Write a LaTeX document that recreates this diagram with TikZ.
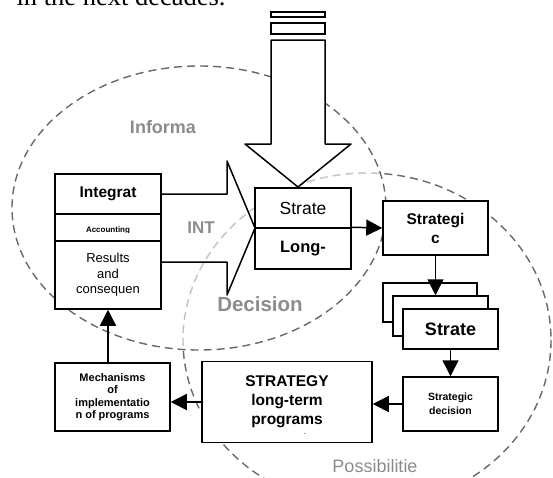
\documentclass[tikz,border=0pt]{standalone}
\usepackage{fontspec}
\setmainfont{Liberation Sans}
\newfontfamily\bodyserif{Liberation Serif}
\usepackage{tkz-euclide}
\usetikzlibrary{arrows.meta}
\definecolor{ringgray}{RGB}{105,105,105}
\definecolor{labelgray}{RGB}{140,140,140}
\newcommand{\fs}[2]{\fontsize{#1}{#2}\selectfont}
\tikzset{
  box/.style={draw, line width=1.5pt, fill=white, inner sep=0pt, align=center},
  link/.style={line width=1.5pt, -{Triangle[length=16pt,width=16pt]}},
  ring/.style={draw=ringgray, line width=1.4pt, dash pattern=on 8pt off 5pt},
  tag/.style={text=labelgray, font=\bfseries\fs{18}{20}}
}

\begin{document}
\begin{tikzpicture}[x=1pt,y=-1pt]
    \useasboundingbox (0,0) rectangle (553,477);
    \node[anchor=base west, font=\bodyserif\fs{26.5}{30}] (head) at (13,5) {in the next decades.};
    % the two dashed rings
    \draw[ring] (367,340) ellipse (184 and 167);
    \draw[ring, fill=white, fill opacity=0.6] (199,208) ellipse (187 and 142);
    % big arrow from the top
    \tkzDefPoints{271/40/A, 325/40/B, 325/144/C, 351/144/D, 298/187/E, 245/144/F, 271/144/G}
    \tkzDefPoints{271/12/H, 325/17/K, 271/23/L, 325/34/M}
    \tkzDrawPolygon[line width=1.5pt, fill=white](A,B,C,D,E,F,G)
    \draw[line width=1.2pt, fill=white] (H) rectangle (K);
    \draw[line width=1.2pt, fill=white] (L) rectangle (M);
    % big arrow INT
    \tkzDefPoints{161/194/P, 227/194/Q, 227/161/R, 255/228/S, 227/295/T, 227/262/U, 161/262/V}
    \tkzDrawPolygon[line width=1.5pt](P,Q,R,S,T,U,V)
    \node[tag] (info) at (163,127) {Informa};
    \node[tag, font=\bfseries\fs{17}{20}] (int) at (201,228) {INT};
    \node[tag, font=\bfseries\fs{20.5}{24}] (decn) at (260,304) {Decision};
    \node[tag, font=\fs{18}{20}] (poss) at (375,466) {Possibilitie};
    % left column
    \node[box, minimum width=106pt, minimum height=40pt, font=\bfseries\fs{15.5}{18}] (integ) at (108,194) {Integrat};
    \node[box, minimum width=106pt, minimum height=27pt] (acc) at (108,227.5) {};
    \begin{scope}
        \clip (55,214) rectangle (161,232.6);
        \node[anchor=base, font=\bfseries\fs{8}{9}] (acctxt) at (108,232.4) {Accounting};
    \end{scope}
    \node[box, minimum width=106pt, minimum height=68pt, font=\fs{13}{15.5}] (res) at (108,275) {Results\\and\\consequen};
    \node[box, minimum width=115pt, minimum height=68pt, font=\bfseries\fs{11}{12.5}] (mech) at (112.5,397) {Mechanisms\\of\\implementatio\\n of programs};
    % middle and right
    \node[box, minimum width=96pt, minimum height=40pt, font=\fs{17.5}{20}] (strt) at (303,208) {Strate};
    \node[box, minimum width=96pt, minimum height=41pt, font=\bfseries\fs{16.5}{20}] (lng) at (303,248.5) {Long-};
    \node[box, minimum width=105pt, minimum height=54pt, font=\bfseries\fs{15.5}{19}] (strat) at (435.5,228) {Strategi\\c};
    \node[box, minimum width=94pt, minimum height=39pt] (back) at (430,302.5) {};
    \node[box, minimum width=95pt, minimum height=40pt] (mid) at (440.5,316) {};
    \node[box, minimum width=95pt, minimum height=40pt, font=\bfseries\fs{18}{20}] (front) at (450.5,329) {Strate};
    \node[box, minimum width=95pt, minimum height=54pt, font=\bfseries\fs{10.5}{14}] (dec) at (450.5,404) {Strategic\\decision};
    \node[box, minimum width=170pt, minimum height=81pt, font=\bfseries\fs{15.5}{19}] (prog) at (287,402) {STRATEGY\\long-term\\programs};
    \node[font=\fs{6}{7}, inner sep=0pt] (dash) at (305,435) {-};
    % connectors
    \draw[link] (lng.north east) -- (strat.west);
    \draw[link] (strat.south) -- (strat.south |- mid.north);
    \draw[link] (front.south) -- (dec.north);
    \draw[link] (dec.west) -- (dec.west -| prog.east);
    \draw[link] (prog.west) -- (prog.west -| mech.east);
    \draw[link] (mech.north -| res.south) -- (res.south);
\end{tikzpicture}
\end{document}
